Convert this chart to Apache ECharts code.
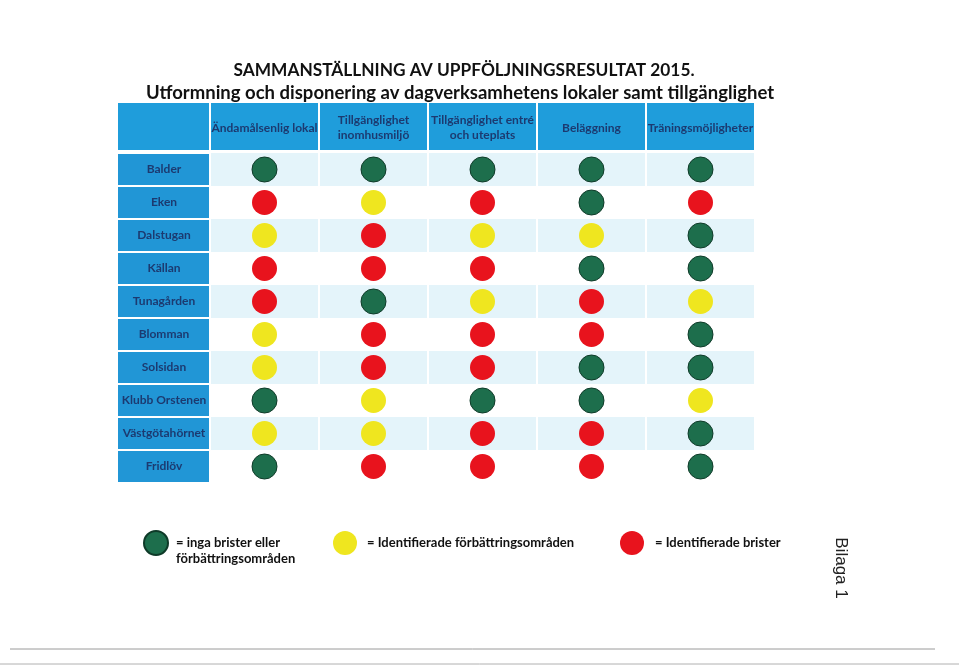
<!DOCTYPE html>
<html>
<head>
<meta charset="utf-8">
<script src="https://cdn.jsdelivr.net/npm/echarts@6/dist/echarts.min.js"></script>
<style>
html,body{margin:0;padding:0;background:#fff;}
#chart{width:959px;height:668px;}
</style>
</head>
<body>
<div id="chart"></div>
<script>
// ---- Data ----
const titleLine1 = 'SAMMANSTÄLLNING AV UPPFÖLJNINGSRESULTAT 2015.';
const titleLine2 = 'Utformning och disponering av dagverksamhetens lokaler samt tillgänglighet';
const columns = ['Ändamålsenlig lokal', 'Tillgänglighet\ninomhusmiljö', 'Tillgänglighet entré\noch uteplats', 'Beläggning', 'Träningsmöjligheter'];
const units = ['Balder', 'Eken', 'Dalstugan', 'Källan', 'Tunagården', 'Blomman', 'Solsidan', 'Klubb Orstenen', 'Västgötahörnet', 'Fridlöv'];
// G = grön, Y = gul, R = röd (one entry per unit, same order as units)
const andamalsenligLokal = ['G', 'R', 'Y', 'R', 'R', 'Y', 'Y', 'G', 'Y', 'G'];
const tillgInomhus      = ['G', 'Y', 'R', 'R', 'G', 'R', 'R', 'Y', 'Y', 'R'];
const tillgEntre        = ['G', 'R', 'Y', 'R', 'Y', 'R', 'R', 'G', 'R', 'R'];
const belaggning        = ['G', 'G', 'Y', 'G', 'R', 'R', 'G', 'G', 'R', 'R'];
const traning           = ['G', 'R', 'G', 'G', 'Y', 'G', 'G', 'Y', 'G', 'G'];
const statusKeys = ['G', 'Y', 'R'];
const legendTexts = ['= inga brister eller\nförbättringsområden', '= Identifierade förbättringsområden', '= Identifierade brister'];
const bilaga = 'Bilaga 1';

// ---- Build ----
const colArrays = [andamalsenligLokal, tillgInomhus, tillgEntre, belaggning, traning];
const colors = { G: '#1d6e4c', Y: '#efe61f', R: '#e8131d' };
const borders = { G: '#0e3a28', Y: '#efe61f', R: '#e8131d' };
const navy = '#1c3a70';

function pointsFor(key) {
  const pts = [];
  colArrays.forEach((arr, ci) => {
    arr.forEach((v, ri) => { if (v === key) pts.push([ci, ri]); });
  });
  return pts;
}

const series = statusKeys.map(k => ({
  name: k,
  type: 'scatter',
  symbol: 'circle',
  symbolSize: 25,
  itemStyle: { color: colors[k], borderColor: borders[k], borderWidth: k === 'G' ? 1 : 0, opacity: 1 },
  data: pointsFor(k),
  z: 3
}));

const legendPos = [
  { left: 143, top: 519, pad: [0, 0, 0, 3] },
  { left: 333, top: 531, pad: [0, 0, 0, 5] },
  { left: 620, top: 531, pad: [0, 0, 0, 6] }
];
const legends = statusKeys.map((k, i) => ({
  data: [k],
  left: legendPos[i].left,
  top: legendPos[i].top,
  padding: 0,
  orient: 'horizontal',
  icon: 'circle',
  itemWidth: 24,
  itemHeight: 26,
  selectedMode: false,
  // multi-line entries: keep the first line level with the marker
  formatter: () => (legendTexts[i].indexOf('\n') >= 0 ? '\n' + legendTexts[i] : legendTexts[i]),
  textStyle: { fontFamily: 'Lato', fontSize: 13, fontWeight: 'bold', color: '#111', lineHeight: 16, padding: legendPos[i].pad }
}));

const chart = echarts.init(document.getElementById('chart'), null, { renderer: 'canvas' });
chart.setOption({
  backgroundColor: '#ffffff',
  animation: false,
  grid: { left: 210, right: 204, top: 153, bottom: 185, containLabel: false },
  legend: legends,
  xAxis: {
    type: 'category',
    position: 'top',
    data: columns,
    boundaryGap: true,
    axisLine: { show: false },
    axisTick: { show: true, inside: false, length: 50, lineStyle: { color: '#ffffff', width: 2 } },
    axisLabel: { color: navy, fontFamily: 'Lato', fontSize: 12, fontWeight: 'bold', lineHeight: 15, verticalAlign: 'middle', margin: 25, interval: 0 },
    splitLine: { show: true, lineStyle: { color: '#ffffff', width: 2 } }
  },
  yAxis: {
    type: 'category',
    inverse: true,
    data: units,
    boundaryGap: true,
    axisLine: { show: false },
    axisTick: { show: true, inside: false, length: 92, lineStyle: { color: '#ffffff', width: 2 } },
    axisLabel: { color: navy, fontFamily: 'Lato', fontSize: 12, fontWeight: 'bold', align: 'center', margin: 46, interval: 0 },
    splitLine: { show: false },
    splitArea: { show: true, areaStyle: { color: ['#e4f4fa', '#ffffff'] } }
  },
  series: series,
  graphic: [
    { type: 'rect', z: -1, shape: { x: 118, y: 103, width: 637, height: 47 }, style: { fill: '#1f9ddb' } },
    { type: 'rect', z: -1, shape: { x: 118, y: 153, width: 92, height: 330 }, style: { fill: '#2196d6' } },
    { type: 'text', x: 464, y: 70, style: { text: titleLine1, align: 'center', verticalAlign: 'middle', fontFamily: 'Lato', fontSize: 17.3, fontWeight: 'bold', fill: '#111' } },
    { type: 'text', x: 460, y: 93, style: { text: titleLine2, align: 'center', verticalAlign: 'middle', fontFamily: 'Lato', fontSize: 18.5, fontWeight: 'bold', fill: '#111' } },
    { type: 'text', x: 841, y: 568, rotation: -Math.PI / 2, style: { text: bilaga, align: 'center', verticalAlign: 'middle', fontFamily: 'Liberation Sans', fontSize: 17, fill: '#222' } },
    { type: 'line', shape: { x1: 10, y1: 649, x2: 935, y2: 649 }, style: { stroke: '#9a9a9a', lineWidth: 1 } },
    { type: 'line', shape: { x1: 0, y1: 664, x2: 959, y2: 664 }, style: { stroke: '#b0b0b0', lineWidth: 1 } }
  ]
});
</script>
</body>
</html>
